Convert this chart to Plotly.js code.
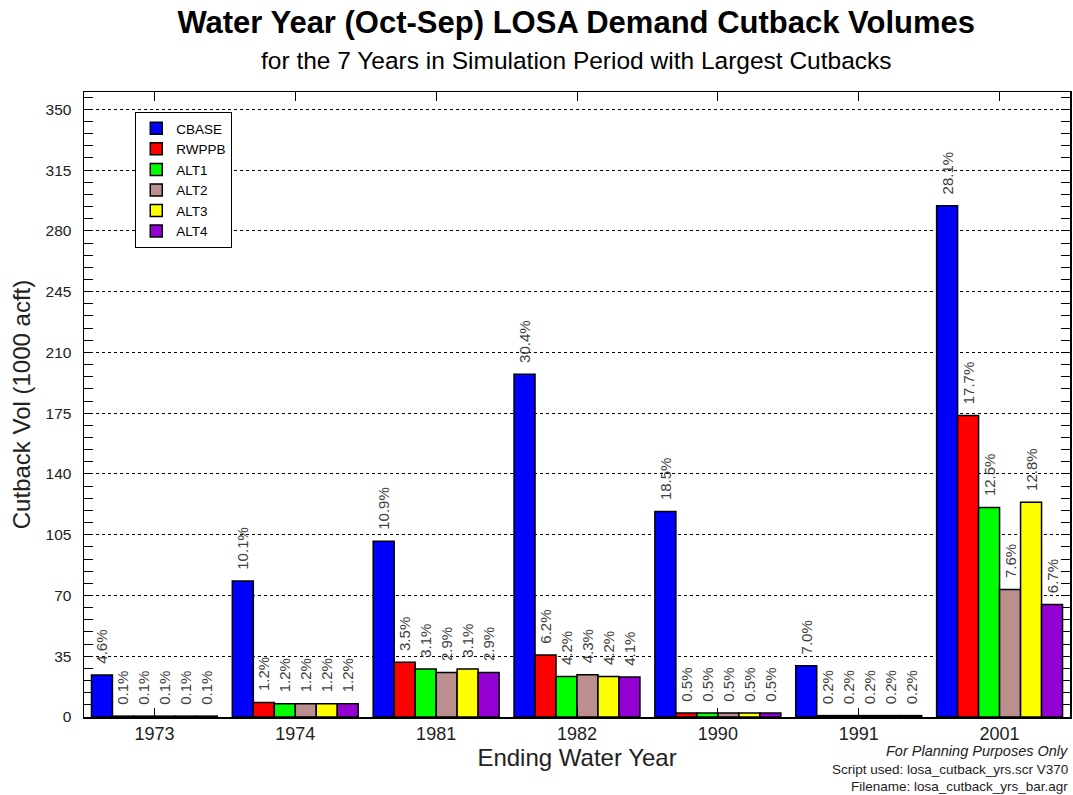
<!DOCTYPE html>
<html><head><meta charset="utf-8">
<script src="https://cdn.plot.ly/plotly-3.0.1.min.js"></script>
<style>body{margin:0;background:#fff}#chart{width:1073px;height:795px}</style>
</head><body><div id="chart"></div>
<script>
const years = ["1973","1974","1981","1982","1990","1991","2001"];
const seriesNames = ["CBASE","RWPPB","ALT1","ALT2","ALT3","ALT4"];
const CBASE = [24.2, 78.3, 101.3, 197.4, 118.4, 29.5, 294.5];
const RWPPB = [0.5, 8.4, 31.5, 35.7, 2.3, 0.8, 173.6];
const ALT1  = [0.5, 7.7, 27.6, 23.4, 2.3, 0.8, 120.7];
const ALT2  = [0.5, 7.7, 25.7, 24.4, 2.3, 0.8, 73.5];
const ALT3  = [0.5, 7.7, 27.6, 23.4, 2.3, 0.8, 123.7];
const ALT4  = [0.5, 7.7, 25.7, 23.0, 2.3, 0.8, 64.8];
const pctCBASE = ["4.6%","10.1%","10.9%","30.4%","18.5%","7.0%","28.1%"];
const pctRWPPB = ["0.1%","1.2%","3.5%","6.2%","0.5%","0.2%","17.7%"];
const pctALT1  = ["0.1%","1.2%","3.1%","4.2%","0.5%","0.2%","12.5%"];
const pctALT2  = ["0.1%","1.2%","2.9%","4.3%","0.5%","0.2%","7.6%"];
const pctALT3  = ["0.1%","1.2%","3.1%","4.2%","0.5%","0.2%","12.8%"];
const pctALT4  = ["0.1%","1.2%","2.9%","4.1%","0.5%","0.2%","6.7%"];
const yTicks = [0,35,70,105,140,175,210,245,280,315,350];

const values = [CBASE, RWPPB, ALT1, ALT2, ALT3, ALT4];
const pcts = [pctCBASE, pctRWPPB, pctALT1, pctALT2, pctALT3, pctALT4];
const colors = ["#0000ff","#ff0000","#00ff00","#bc8f8f","#ffff00","#9400d3"];
const FONT = "Liberation Sans, Arial, sans-serif";

const traces = seriesNames.map((n, i) => ({
  type: "bar", name: n, x: years, y: values[i],
  text: pcts[i].map(t => "\u00a0\u00a0" + t),
  textposition: "outside", textangle: -90, constraintext: "none", cliponaxis: false,
  textfont: {family: FONT, size: 15, color: "#404040"},
  marker: {color: colors[i], line: {color: "#000", width: 1.5}},
  hoverinfo: "x+y+name"
}));

const layout = {
  width: 1073, height: 795,
  margin: {l: 84, r: 3, t: 92, b: 78},
  paper_bgcolor: "#fff", plot_bgcolor: "#fff",
  font: {family: FONT, color: "#000"},
  barmode: "group", bargap: 0.106, bargroupgap: 0,
  title: {text: "<b>Water Year (Oct-Sep) LOSA Demand Cutback Volumes</b>",
    font: {family: FONT, size: 31, color: "#000"},
    x: 0.537, xanchor: "center", y: 0.972, yanchor: "middle", yref: "container"},
  xaxis: {
    type: "category", showline: true, linecolor: "#000", linewidth: 1.5, mirror: "ticks",
    ticks: "inside", ticklen: 9, tickcolor: "#000", tickwidth: 1,
    tickfont: {family: FONT, size: 18, color: "#222"},
    title: {text: "Ending Water Year", font: {family: FONT, size: 24, color: "#222"}, standoff: 0},
    showgrid: false, zeroline: false
  },
  yaxis: {
    range: [0, 360], showline: true, linecolor: "#000", linewidth: 1.5, mirror: "ticks",
    tickmode: "array", tickvals: yTicks, ticktext: yTicks.map(String),
    ticks: "inside", ticklen: 9, tickcolor: "#000", tickwidth: 1,
    minor: {dtick: 7, tick0: 0, ticks: "inside", ticklen: 9, tickcolor: "#000", showgrid: false},
    ticklabelstandoff: 8,
    tickfont: {family: FONT, size: 15.5, color: "#222"},
    showgrid: true, gridcolor: "#000", gridwidth: 1, griddash: "dot",
    zeroline: false,
    title: {text: "Cutback Vol (1000 acft)", font: {family: FONT, size: 24, color: "#222"}, standoff: 8}
  },
  legend: {
    x: 0.052, y: 0.968, xanchor: "left", yanchor: "top",
    bgcolor: "#fff", bordercolor: "#000", borderwidth: 1,
    font: {family: FONT, size: 13.5, color: "#000"},
    tracegroupgap: 0
  },
  annotations: [
    {text: "for the 7 Years in Simulation Period with Largest Cutbacks", xref: "paper", yref: "paper",
     x: 0.4995, y: 1.051, xanchor: "center", yanchor: "middle", showarrow: false,
     font: {family: FONT, size: 24.5, color: "#000"}},
    {text: "<i>For Planning Purposes Only</i>", xref: "paper", yref: "paper",
     x: 1, y: -0.0544, xanchor: "right", yanchor: "middle", showarrow: false,
     font: {family: FONT, size: 14.5, color: "#222"}},
    {text: "Script used: losa_cutback_yrs.scr V370", xref: "paper", yref: "paper",
     x: 1, y: -0.0832, xanchor: "right", yanchor: "middle", showarrow: false,
     font: {family: FONT, size: 13.5, color: "#222"}},
    {text: "Filename: losa_cutback_yrs_bar.agr", xref: "paper", yref: "paper",
     x: 1, y: -0.1104, xanchor: "right", yanchor: "middle", showarrow: false,
     font: {family: FONT, size: 13.5, color: "#222"}}
  ],
  showlegend: true
};

Plotly.newPlot("chart", traces, layout, {displayModeBar: false, staticPlot: true});
</script>
</body></html>
